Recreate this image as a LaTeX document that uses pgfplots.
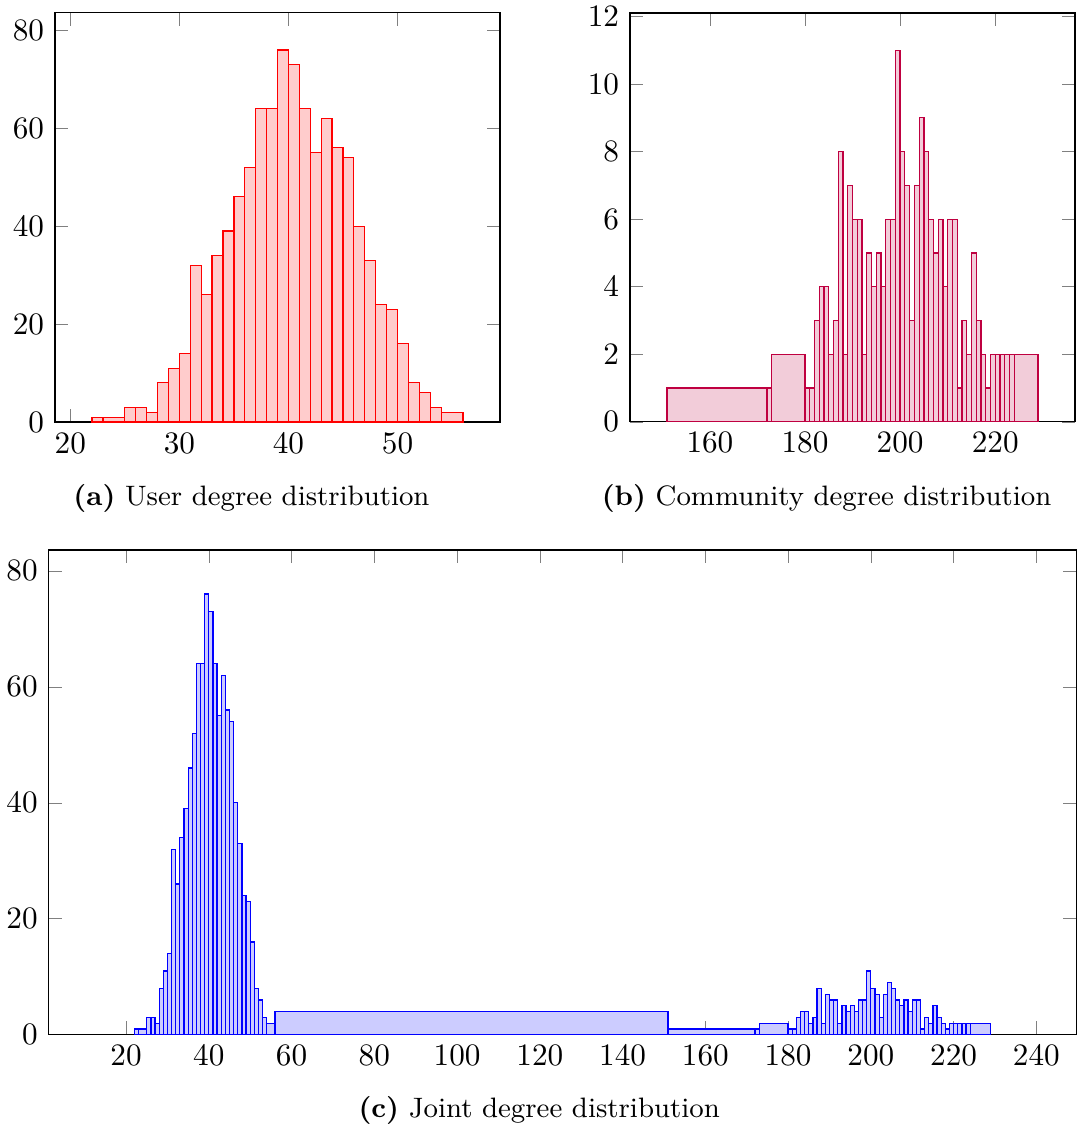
\documentclass[border=0pt]{standalone}
\usepackage{pgfplots}
\usepackage{pgfplotstable}
\pgfplotsset{compat=1.18}

\pgfplotstableread{
x y
22 1
23 1
25 3
26 3
27 2
28 8
29 11
30 14
31 32
32 26
33 34
34 39
35 46
36 52
37 64
38 64
39 76
40 73
41 64
42 55
43 62
44 56
45 54
46 40
47 33
48 24
49 23
50 16
51 8
52 6
53 3
54 2
56 4
}\userdata

\pgfplotstableread{
x y
151 1
172 1
173 2
180 1
181 1
182 3
183 4
184 4
185 2
186 3
187 8
188 2
189 7
190 6
191 6
192 2
193 5
194 4
195 5
196 4
197 6
198 6
199 11
200 8
201 7
202 3
203 7
204 9
205 8
206 6
207 5
208 6
209 4
210 6
211 6
212 1
213 3
214 2
215 5
216 3
217 2
218 1
219 2
220 2
221 2
222 2
223 2
224 2
229 2
}\commdata

\pgfplotstableread{
x y
22 1
23 1
25 3
26 3
27 2
28 8
29 11
30 14
31 32
32 26
33 34
34 39
35 46
36 52
37 64
38 64
39 76
40 73
41 64
42 55
43 62
44 56
45 54
46 40
47 33
48 24
49 23
50 16
51 8
52 6
53 3
54 2
56 4
151 1
172 1
173 2
180 1
181 1
182 3
183 4
184 4
185 2
186 3
187 8
188 2
189 7
190 6
191 6
192 2
193 5
194 4
195 5
196 4
197 6
198 6
199 11
200 8
201 7
202 3
203 7
204 9
205 8
206 6
207 5
208 6
209 4
210 6
211 6
212 1
213 3
214 2
215 5
216 3
217 2
218 1
219 2
220 2
221 2
222 2
223 2
224 2
229 2
}\jointdata

\begin{document}
\begin{tikzpicture}
% (a)
\begin{axis}[
  at={(17.63pt,-135.26pt)}, anchor=south west,
  scale only axis, width=142.63pt, height=131.2pt,
  xmin=18.6, xmax=59.4, ymin=0, ymax=83.6,
  xtick={20,30,40,50}, ytick={0,20,40,60,80},
]
\addplot[ybar interval, draw=red, fill=red!20] table[x=x,y=y] {\userdata};
\end{axis}
\node[anchor=base, font=\small] at (80.6pt,-161.9pt) {\textbf{(a)} User degree distribution};

% (b)
\begin{axis}[
  at={(201.92pt,-135.2pt)}, anchor=south west,
  scale only axis, width=142.63pt, height=131.0pt,
  xmin=143.2, xmax=236.8, ymin=0, ymax=12.1,
  xtick={160,180,200,220}, ytick={0,2,4,6,8,10,12},
]
\addplot[ybar interval, draw=purple, fill=purple!20] table[x=x,y=y] {\commdata};
\end{axis}
\node[anchor=base, font=\small] at (264.9pt,-161.9pt) {\textbf{(b)} Community degree distribution};

% (c)
\begin{axis}[
  at={(15.61pt,-331.63pt)}, anchor=south west,
  scale only axis, width=329.4pt, height=155.35pt,
  xmin=1.3, xmax=249.7, ymin=0, ymax=83.6,
  xtick={20,40,60,80,100,120,140,160,180,200,220,240}, ytick={0,20,40,60,80},
]
\addplot[ybar interval, draw=blue, fill=blue!20] table[x=x,y=y] {\jointdata};
\end{axis}
\node[anchor=base, font=\small] at (172.8pt,-358pt) {\textbf{(c)} Joint degree distribution};

\pgfresetboundingbox
\path[use as bounding box] (0pt,0pt) rectangle (345.2pt,-361.2pt);
\end{tikzpicture}
\end{document}
